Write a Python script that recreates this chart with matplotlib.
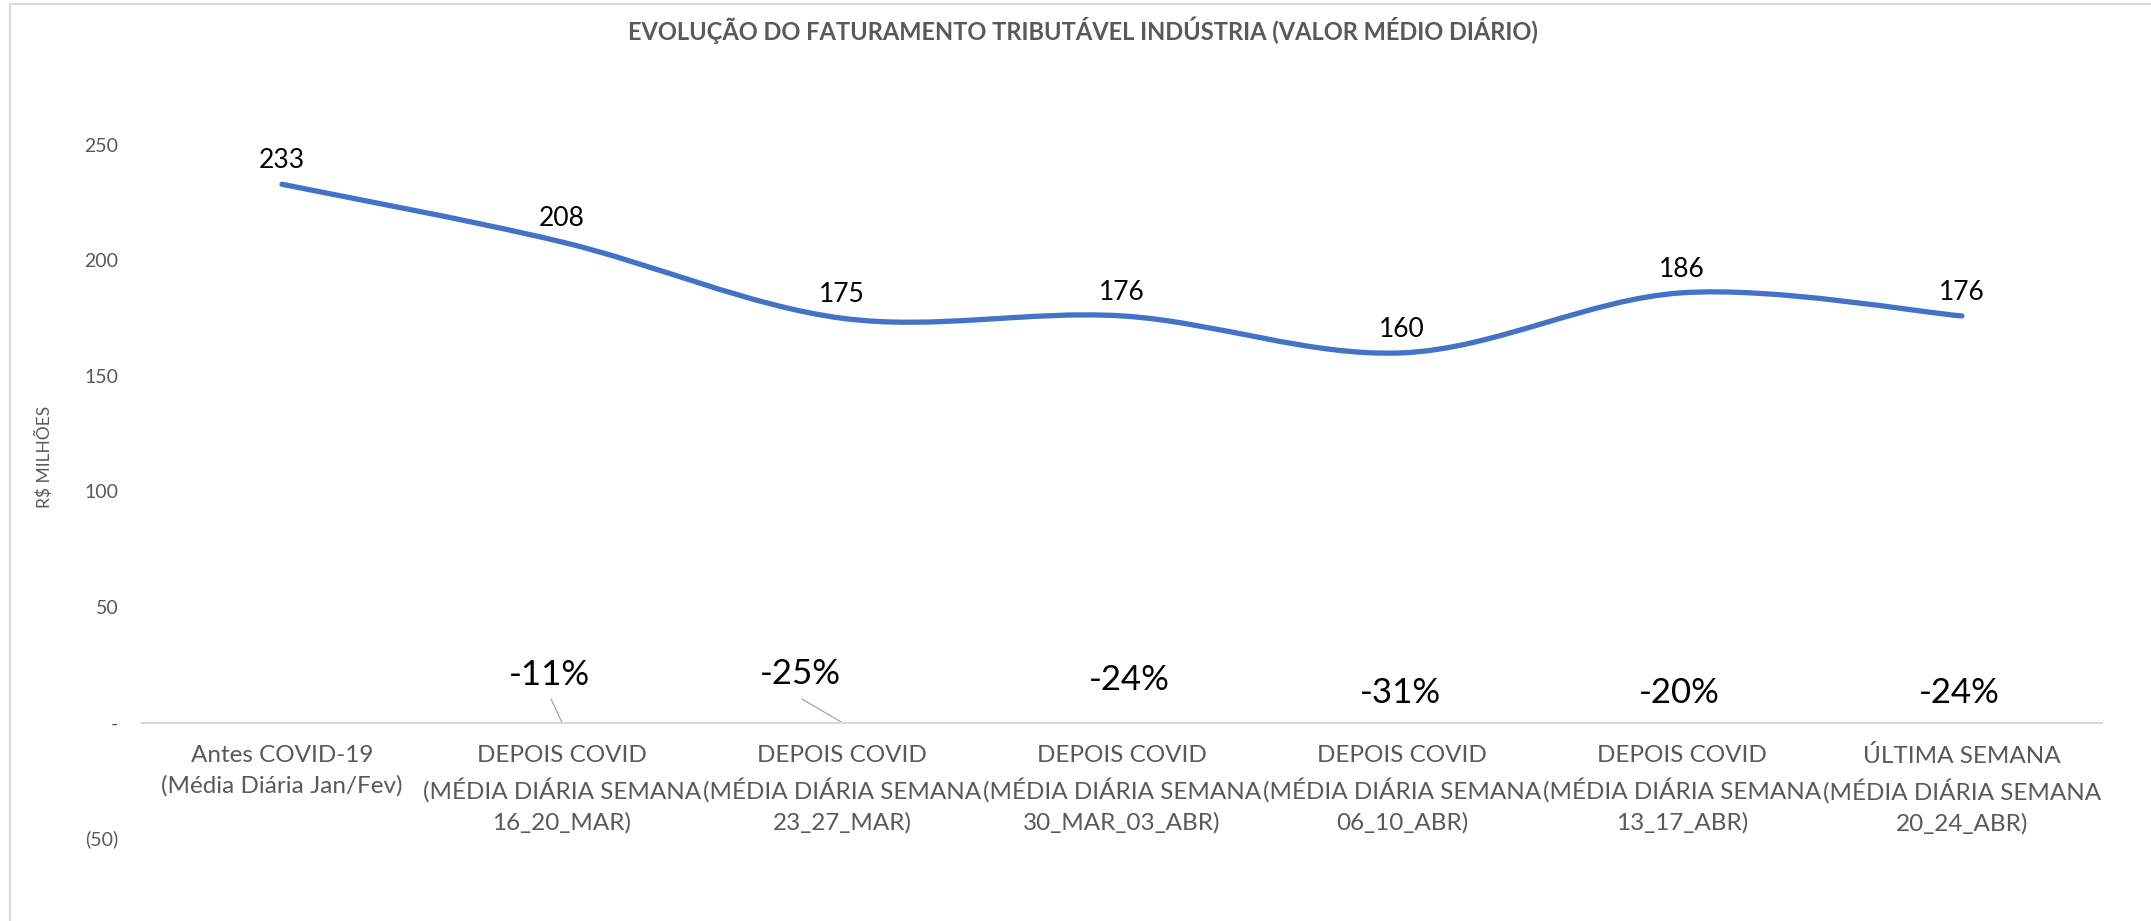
import numpy as np
import matplotlib
matplotlib.use("Agg")
import matplotlib.pyplot as plt
from matplotlib.path import Path
from matplotlib.patches import PathPatch
from matplotlib.ticker import FuncFormatter
from matplotlib.lines import Line2D

categories = [
    "Antes COVID-19\n(Média Diária Jan/Fev)",
    "DEPOIS COVID\n(MÉDIA DIÁRIA SEMANA\n16_20_MAR)",
    "DEPOIS COVID\n(MÉDIA DIÁRIA SEMANA\n23_27_MAR)",
    "DEPOIS COVID\n(MÉDIA DIÁRIA SEMANA\n30_MAR_03_ABR)",
    "DEPOIS COVID\n(MÉDIA DIÁRIA SEMANA\n06_10_ABR)",
    "DEPOIS COVID\n(MÉDIA DIÁRIA SEMANA\n13_17_ABR)",
    "ÚLTIMA SEMANA\n(MÉDIA DIÁRIA SEMANA\n20_24_ABR)",
]
values = [233, 208, 175, 176, 160, 186, 176]
pct_labels = ["", "-11%", "-25%", "-24%", "-31%", "-20%", "-24%"]
yticks = [-50, 0, 50, 100, 150, 200, 250]

title = "EVOLUÇÃO DO FATURAMENTO TRIBUTÁVEL INDÚSTRIA (VALOR MÉDIO DIÁRIO)"
ylabel = "R$ MILHÕES"

FONT = ["Lato", "DejaVu Sans"]
GREY = "#595959"
BLUE = "#4472C4"

fig = plt.figure(figsize=(21.51, 9.21), dpi=100)
ax = fig.add_axes([0.066, 0.0901, 0.9772 - 0.066, 0.8426 - 0.0901])

x = np.arange(len(values))
y = np.array(values, dtype=float)

# Excel-like smoothed line (Catmull-Rom as cubic Bezier)
verts = [(x[0], y[0])]
codes = [Path.MOVETO]
n = len(x)
for i in range(n - 1):
    p0 = np.array([x[max(i - 1, 0)], y[max(i - 1, 0)]])
    p1 = np.array([x[i], y[i]])
    p2 = np.array([x[i + 1], y[i + 1]])
    p3 = np.array([x[min(i + 2, n - 1)], y[min(i + 2, n - 1)]])
    c1 = p1 + (p2 - p0) / 6.0
    c2 = p2 - (p3 - p1) / 6.0
    verts += [tuple(c1), tuple(c2), tuple(p2)]
    codes += [Path.CURVE4] * 3
patch = PathPatch(Path(verts, codes), facecolor="none", edgecolor=BLUE,
                  lw=3.8, capstyle="round", joinstyle="round", zorder=3)
ax.add_patch(patch)

# data labels
for xi, yi in zip(x, values):
    ax.annotate(f"{yi}", (xi, yi), xytext=(0, 17), textcoords="offset points",
                ha="center", va="center", fontsize=19, color="black",
                family=FONT, zorder=4)

# percentage labels (position offsets in category / value units)
pct_dx = [0, -0.046, -0.15, 0.025, -0.004, -0.01, -0.01]
pct_y = [0, 20.4, 21.0, 18.2, 12.6, 12.6, 12.6]
leader = [False, True, True, False, False, False, False]
for i, lab in enumerate(pct_labels):
    if not lab:
        continue
    ax.text(i + pct_dx[i], pct_y[i], lab, ha="center", va="center",
            fontsize=25, color="black", family=FONT, zorder=4)
    if leader[i]:
        ax.add_line(Line2D([i + pct_dx[i] + 0.007, i], [10.2, 0],
                           color="#A6A6A6", lw=0.9, zorder=2))

ax.set_xlim(-0.5, n - 0.5)
ax.set_ylim(-50, 250)

for s in ["top", "right", "left"]:
    ax.spines[s].set_visible(False)
ax.spines["bottom"].set_position(("data", 0))
ax.spines["bottom"].set_color("#D9D9D9")
ax.spines["bottom"].set_linewidth(1.5)

ax.set_xticks(x)
ax.set_xticklabels(categories, fontsize=17.5, color=GREY, family=FONT,
                   linespacing=1.55)
ax.tick_params(axis="x", length=0, pad=16)

def fmt(v, pos):
    if v == 0:
        return "-"
    if v < 0:
        return f"({abs(int(v))})"
    return f"{int(v)}"

ax.set_yticks(yticks)
ax.yaxis.set_major_formatter(FuncFormatter(fmt))
ax.tick_params(axis="y", length=0, pad=17, labelsize=14, labelcolor=GREY)
for t in ax.get_yticklabels():
    t.set_family(FONT)

fig.text(44 / 2151, 1 - 457 / 921, ylabel, rotation=90, ha="center",
         va="center", fontsize=12.5, color=GREY, family=FONT)

fig.text(1083 / 2151, 1 - 30 / 921, title, ha="center", va="center",
         fontsize=17, fontweight="bold", color=GREY, family=FONT)

# chart-area border (visible on top and left)
fig.add_artist(Line2D([10 / 2151, 10 / 2151], [0, 1 - 4 / 921],
                      transform=fig.transFigure, color="#D9D9D9", lw=1.5))
fig.add_artist(Line2D([10 / 2151, 1], [1 - 4 / 921, 1 - 4 / 921],
                      transform=fig.transFigure, color="#D9D9D9", lw=1.5))

fig.savefig("out.png", dpi=100, facecolor="white")
